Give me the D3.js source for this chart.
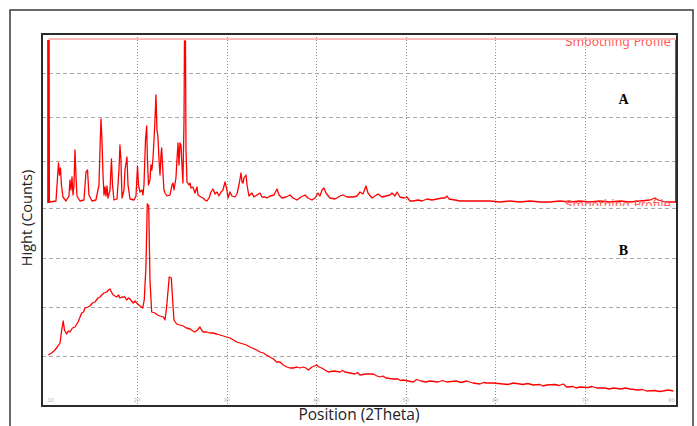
<!DOCTYPE html>
<html>
<head>
<meta charset="utf-8">
<script src="https://cdn.jsdelivr.net/npm/d3@7/dist/d3.min.js"></script>
<style>
  body { margin: 0; background: #fff; }
  svg { display: block; }
</style>
</head>
<body>
<div id="wrapper"></div>
<script>
// pattern A : [2Theta, counts]
const patternA = [
  [10.12,1630],[10.23,10],[10.96,20],[11.24,400],[11.35,280],[11.46,350],[11.57,180],[11.74,60],[12.08,20],[12.41,70],
  [12.52,230],[12.63,130],[12.75,260],[12.86,80],[12.97,180],[13.08,530],[13.19,280],[13.30,70],[13.64,20],[14.08,30],
  [14.31,310],[14.48,330],[14.64,80],[14.98,20],[15.42,30],[15.76,180],[15.87,530],[15.98,840],[16.09,630],[16.21,280],
  [16.32,80],[16.43,160],[16.54,70],[16.65,170],[16.76,50],[16.99,130],[17.15,440],[17.27,180],[17.43,30],[17.77,40],
  [17.99,330],[18.10,580],[18.21,430],[18.33,50],[18.55,130],[18.66,330],[18.88,460],[19.00,180],[19.22,40],[19.67,30],
  [19.89,70],[20.06,370],[20.17,180],[20.33,110],[20.56,130],[20.67,80],[20.78,180],[20.95,630],[21.08,770],[21.17,430],
  [21.28,180],[21.45,230],[21.56,380],[21.67,330],[21.79,450],[21.90,630],[22.01,830],[22.12,1080],[22.23,730],[22.34,660],
  [22.46,430],[22.57,280],[22.68,480],[22.76,550],[22.85,380],[23.01,130],[23.13,100],[23.35,70],[23.68,80],[23.91,180],
  [24.02,200],[24.13,130],[24.35,250],[24.46,430],[24.58,600],[24.69,380],[24.80,600],[24.91,580],[25.02,380],[25.13,200],
  [25.25,830],[25.30,1620],[25.41,1620],[25.47,530],[25.58,210],[25.80,180],[25.92,200],[26.03,150],[26.25,160],[26.47,100],
  [26.70,160],[26.81,80],[27.14,60],[27.37,50],[27.59,30],[27.81,20],[28.04,50],[28.26,110],[28.48,140],[28.71,90],
  [28.93,110],[29.15,70],[29.38,110],[29.60,130],[29.82,210],[30.04,130],[30.16,50],[30.38,110],[30.60,70],[30.94,60],
  [31.16,90],[31.38,180],[31.61,300],[31.72,210],[31.83,200],[31.94,250],[32.17,280],[32.28,180],[32.50,70],[32.61,80],
  [32.83,100],[33.06,60],[33.39,80],[33.73,100],[33.95,60],[34.29,60],[34.51,50],[34.84,70],[35.29,80],[35.63,140],
  [35.85,80],[36.18,50],[36.63,60],[37.08,80],[37.41,50],[37.86,30],[38.30,60],[38.75,80],[39.08,50],[39.53,30],
  [39.87,50],[40.20,100],[40.42,70],[40.65,130],[40.87,150],[41.09,100],[41.54,50],[42.10,40],[42.66,70],[42.99,80],
  [43.44,60],[44.11,60],[44.55,70],[44.89,110],[45.22,90],[45.56,170],[45.78,100],[46.23,50],[46.56,70],[46.90,90],
  [47.34,60],[47.79,70],[48.24,80],[48.46,100],[48.79,70],[49.02,110],[49.35,60],[49.80,50],[50.13,60],[50.47,20],
  [50.80,20],[51.36,30],[51.81,20],[52.37,40],[52.92,30],[53.48,40],[54.04,50],[54.38,50],[54.60,70],[54.82,40],
  [55.49,30],[56.05,20],[57.17,20],[58.28,20],[59.40,20],[60.51,10],[61.63,20],[62.75,10],[63.86,20],[64.98,10],
  [66.09,10],[67.21,20],[68.33,10],[69.44,20],[70.56,10],[71.67,20],[72.79,10],[73.91,20],[75.02,10],[76.14,20],
  [77.25,30],[77.81,50],[78.15,30],[78.93,10],[79.71,10],[80.16,10],[80.21,1630]
];

// pattern B : [2Theta, counts]
const patternB = [
  [10.10,510],[10.48,530],[10.85,560],[11.18,600],[11.41,630],[11.57,740],[11.77,850],[11.91,760],[12.15,720],[12.35,750],
  [12.52,740],[12.80,780],[13.08,790],[13.42,840],[13.83,930],[14.03,940],[14.20,980],[14.53,990],[14.75,1000],[15.03,1030],
  [15.31,1040],[15.65,1080],[15.87,1090],[16.06,1110],[16.32,1130],[16.62,1140],[16.82,1160],[16.99,1170],[17.15,1140],[17.35,1110],
  [17.54,1100],[17.73,1090],[17.94,1110],[18.10,1080],[18.33,1090],[18.66,1090],[18.85,1060],[19.05,1080],[19.22,1070],[19.59,1030],
  [19.78,1050],[19.97,1030],[20.33,1000],[20.64,980],[20.81,1060],[21.00,1390],[21.15,2020],[21.31,2000],[21.45,1260],[21.64,940],
  [22.01,930],[22.29,910],[22.57,900],[22.94,890],[23.13,860],[23.31,990],[23.60,1290],[23.83,1280],[23.98,1060],[24.13,860],
  [24.43,820],[24.80,810],[25.17,800],[25.52,780],[25.92,770],[26.25,750],[26.47,740],[26.75,760],[27.03,790],[27.20,760],
  [27.40,740],[27.76,740],[28.15,730],[28.48,730],[28.90,720],[29.26,710],[29.63,700],[29.99,690],[30.38,680],[30.77,660],
  [31.13,640],[31.50,630],[31.86,620],[32.22,610],[32.61,590],[33.00,575],[33.36,560],[33.73,540],[34.10,530],[34.45,510],
  [34.84,490],[35.23,470],[35.59,440],[35.96,440],[36.33,410],[36.71,390],[37.08,380],[37.44,380],[37.86,390],[38.19,380],
  [38.56,390],[38.86,380],[39.12,360],[39.53,390],[40.06,410],[40.31,390],[40.61,380],[40.98,360],[41.35,340],[41.99,350],
  [42.66,340],[42.95,355],[43.21,340],[43.77,330],[44.33,320],[44.60,335],[44.89,310],[45.56,320],[46.37,320],[46.79,300],
  [47.12,290],[47.45,300],[47.79,280],[48.61,270],[49.13,270],[49.40,255],[49.72,260],[50.25,250],[50.84,240],[51.20,265],
  [51.70,250],[52.20,240],[52.70,250],[53.59,240],[54.10,255],[54.57,240],[55.60,250],[56.20,235],[56.80,250],[57.50,230],
  [58.28,220],[58.70,235],[59.06,230],[59.77,230],[60.85,220],[61.40,215],[62.00,230],[63.08,215],[63.60,225],[64.23,210],
  [64.98,215],[65.30,200],[65.73,210],[66.65,215],[67.10,205],[67.58,220],[67.96,190],[68.66,195],[69.00,180],[69.44,190],
  [70.33,185],[70.80,195],[71.31,180],[72.23,180],[72.70,170],[73.16,180],[74.02,170],[74.50,180],[75.02,170],[75.92,160],
  [76.40,165],[76.89,150],[77.81,155],[78.30,145],[78.71,150],[79.30,160],[79.86,150]
];

const positionTicks = [10, 20, 30, 40, 50, 60, 70, 80];
const gridLinesA = [420, 860, 1300];
const gridLinesB = [500, 990, 1480, 1980];
const panelLabels = [
  { name: "A", counts: 990, scale: "A" },
  { name: "B", counts: 1510, scale: "B" },
];
const smoothingLabel = "Smoothing Profile";

function drawChart() {
  const xAccessor = (d) => d[0];
  const yAccessor = (d) => d[1];

  const width = 697;

  let dimensions = {
    width,
    height: 426,
    margin: {
      top: 34,
      right: 20,
      bottom: 20,
      left: 42,
    },
  };

  dimensions.boundedWidth =
    dimensions.width - dimensions.margin.left - dimensions.margin.right;
  dimensions.boundedHeight =
    dimensions.height - dimensions.margin.top - dimensions.margin.bottom;

  const wrapper = d3
    .select("#wrapper")
    .append("svg")
    .attr("width", dimensions.width)
    .attr("height", dimensions.height);

  // outer frame of the figure
  wrapper
    .append("rect")
    .attr("x", 10)
    .attr("y", 10)
    .attr("width", 683)
    .attr("height", 440)
    .attr("fill", "none")
    .attr("stroke", "#3a3a3a")
    .attr("stroke-width", 1.5);

  const bounds = wrapper
    .append("g")
    .attr(
      "transform",
      `translate(${dimensions.margin.left}, ${dimensions.margin.top})`
    );

  bounds
    .append("clipPath")
    .attr("id", "plot-clip")
    .append("rect")
    .attr("width", dimensions.boundedWidth)
    .attr("height", dimensions.boundedHeight);

  const xScale = d3
    .scaleLinear()
    .domain([9.4, 80.27])
    .range([0, dimensions.boundedWidth]);

  // upper pattern sits in the top part of the frame
  const yScaleA = d3.scaleLinear().domain([0, 1630]).range([169, 6]);
  const yScaleB = d3
    .scaleLinear()
    .domain([0, 3720])
    .range([dimensions.boundedHeight, 0]);
  const scales = { A: yScaleA, B: yScaleB };

  // grid
  const grid = bounds.append("g");
  grid
    .selectAll(".vgrid")
    .data(positionTicks.filter((d) => d > 15 && d < 75))
    .join("line")
    .attr("x1", (d) => Math.round(xScale(d)) + 0.5)
    .attr("x2", (d) => Math.round(xScale(d)) + 0.5)
    .attr("y1", 0)
    .attr("y2", dimensions.boundedHeight)
    .attr("stroke", "#8a8a8a")
    .attr("stroke-dasharray", "1,2");

  const hLines = gridLinesA
    .map((v) => yScaleA(v))
    .concat(gridLinesB.map((v) => yScaleB(v)));
  grid
    .selectAll(".hgrid")
    .data(hLines)
    .join("line")
    .attr("x1", 0)
    .attr("x2", dimensions.boundedWidth)
    .attr("y1", (d) => Math.round(d) + 0.5)
    .attr("y2", (d) => Math.round(d) + 0.5)
    .attr("stroke", "#a8a8a8")
    .attr("stroke-dasharray", "4,3");

  // tiny position labels along the bottom
  bounds
    .append("g")
    .selectAll("text")
    .data(positionTicks)
    .join("text")
    .attr("x", (d) => xScale(d))
    .attr("y", dimensions.boundedHeight - 4)
    .attr("text-anchor", (d, i) =>
      i === 0 ? "start" : i === positionTicks.length - 1 ? "end" : "middle"
    )
    .attr("font-family", "DejaVu Sans")
    .attr("font-size", 5)
    .attr("fill", "#b0b0b0")
    .text((d) => d);

  const plot = bounds.append("g").attr("clip-path", "url(#plot-clip)");

  // smoothing profile envelope across the top of pattern A
  const firstA = patternA[0];
  const lastA = patternA[patternA.length - 1];
  plot
    .append("line")
    .attr("x1", xScale(xAccessor(firstA)))
    .attr("x2", xScale(xAccessor(lastA)))
    .attr("y1", yScaleA(yAccessor(firstA)) - 1)
    .attr("y2", yScaleA(yAccessor(lastA)) - 1)
    .attr("stroke", "#ff7070")
    .attr("stroke-width", 1);

  // thick edge spikes of pattern A
  plot
    .selectAll(".edge")
    .data([firstA, lastA])
    .join("line")
    .attr("x1", (d) => xScale(xAccessor(d)))
    .attr("x2", (d) => xScale(xAccessor(d)))
    .attr("y1", (d) => yScaleA(yAccessor(d)))
    .attr("y2", yScaleA(0))
    .attr("stroke", "#ff0000")
    .attr("stroke-width", 2.6);

  const lineA = d3
    .line()
    .x((d) => xScale(xAccessor(d)))
    .y((d) => yScaleA(yAccessor(d)));
  const lineB = d3
    .line()
    .x((d) => xScale(xAccessor(d)))
    .y((d) => yScaleB(yAccessor(d)));

  plot
    .append("path")
    .attr("d", lineA(patternA))
    .attr("fill", "none")
    .attr("stroke", "#ff0000")
    .attr("stroke-width", 1.3)
    .attr("stroke-linejoin", "round");

  plot
    .append("path")
    .attr("d", lineB(patternB))
    .attr("fill", "none")
    .attr("stroke", "#ff0000")
    .attr("stroke-width", 1.3)
    .attr("stroke-linejoin", "round");

  // half hidden "Smoothing Profile" captions
  const cap = bounds.append("g");
  cap
    .append("clipPath")
    .attr("id", "cap-top")
    .append("rect")
    .attr("x", 0)
    .attr("y", 6)
    .attr("width", dimensions.boundedWidth)
    .attr("height", 10);
  cap
    .append("clipPath")
    .attr("id", "cap-bottom")
    .append("rect")
    .attr("x", 0)
    .attr("y", 165)
    .attr("width", dimensions.boundedWidth)
    .attr("height", 7);

  cap
    .append("text")
    .attr("clip-path", "url(#cap-top)")
    .attr("x", xScale(79.6))
    .attr("y", 12)
    .attr("text-anchor", "end")
    .attr("font-family", "DejaVu Sans")
    .attr("font-size", 12)
    .attr("fill", "#ff5a5a")
    .text(smoothingLabel);

  cap
    .append("text")
    .attr("clip-path", "url(#cap-bottom)")
    .attr("x", xScale(79.6))
    .attr("y", 175)
    .attr("text-anchor", "end")
    .attr("font-family", "DejaVu Sans")
    .attr("font-size", 12)
    .attr("fill", "#ff5a5a")
    .text(smoothingLabel);

  // plot frame
  bounds
    .append("rect")
    .attr("width", dimensions.boundedWidth)
    .attr("height", dimensions.boundedHeight)
    .attr("fill", "none")
    .attr("stroke", "#2b2b2b")
    .attr("stroke-width", 2);

  // panel letters
  bounds
    .selectAll(".panel")
    .data(panelLabels)
    .join("text")
    .attr("x", xScale(74.3))
    .attr("y", (d) => scales[d.scale](d.counts))
    .attr("text-anchor", "middle")
    .attr("font-family", "Liberation Serif")
    .attr("font-weight", "bold")
    .attr("font-size", 14)
    .attr("fill", "#000")
    .text((d) => d.name);

  // axis titles
  wrapper
    .append("text")
    .attr("x", 359)
    .attr("y", 420)
    .attr("text-anchor", "middle")
    .attr("font-family", "Open Sans")
    .attr("font-size", 15.5)
    .attr("fill", "#222")
    .text("Position (2Theta)");

  wrapper
    .append("text")
    .attr("transform", "translate(32, 218) rotate(-90)")
    .attr("text-anchor", "middle")
    .attr("font-family", "Open Sans")
    .attr("font-size", 14.5)
    .attr("fill", "#222")
    .text("Hight (Counts)");
}

drawChart();
</script>
</body>
</html>
